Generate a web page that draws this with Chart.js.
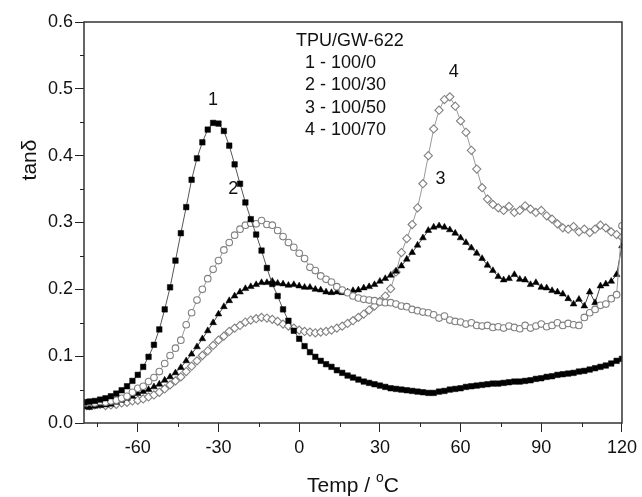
<!DOCTYPE html>
<html>
<head>
<meta charset="utf-8">
<script src="https://cdn.jsdelivr.net/npm/chart.js@4.4.1/dist/chart.umd.min.js"></script>
<style>
  html, body { margin: 0; padding: 0; background: #fff; }
  canvas { display: block; }
</style>
</head>
<body>
<canvas id="chart" width="642" height="497"></canvas>
<script>
// temperature (°C), shared by all four samples
const temps = [
  -80, -78, -76, -74, -72, -70, -68, -66, -64, -62,
  -60, -58, -56, -54, -52, -50, -48, -46, -44, -42,
  -40, -38, -36, -34, -32, -30, -28, -26, -24, -22,
  -20, -18, -16, -14, -12, -10, -8, -6, -4, -2,
  0, 2, 4, 6, 8, 10, 12, 14, 16, 18,
  20, 22, 24, 26, 28, 30, 32, 34, 36, 38,
  40, 42, 44, 46, 48, 50, 52, 54, 56, 58,
  60, 62, 64, 66, 68, 70, 72, 74, 76, 78,
  80, 82, 84, 86, 88, 90, 92, 94, 96, 98,
  100, 102, 104, 106, 108, 110, 112, 114, 116, 118,
  120
];

// 1 - 100/0
const tan100_0 = [
  0.031, 0.032, 0.033, 0.035, 0.037, 0.040, 0.044, 0.049, 0.055, 0.063,
  0.072, 0.084, 0.099, 0.117, 0.140, 0.170, 0.203, 0.243, 0.284, 0.323,
  0.364, 0.396, 0.420, 0.439, 0.449, 0.448, 0.437, 0.415, 0.387, 0.358,
  0.330, 0.305, 0.282, 0.258, 0.232, 0.208, 0.190, 0.170, 0.153, 0.138,
  0.126, 0.115, 0.106, 0.099, 0.093, 0.088, 0.084, 0.079, 0.075, 0.071,
  0.068, 0.065, 0.062, 0.060, 0.058, 0.056, 0.054, 0.052, 0.051, 0.050,
  0.049, 0.048, 0.047, 0.046, 0.045, 0.045, 0.047, 0.048, 0.050, 0.051,
  0.052, 0.054, 0.055, 0.056, 0.057, 0.058, 0.059, 0.059, 0.060, 0.061,
  0.062, 0.062, 0.063, 0.064, 0.066, 0.067, 0.069, 0.070, 0.072, 0.073,
  0.074, 0.075, 0.077, 0.078, 0.080, 0.082, 0.084, 0.086, 0.089, 0.093,
  0.096
];

// 2 - 100/30
const tan100_30 = [
  0.030, 0.031, 0.030, 0.032, 0.031, 0.033, 0.034, 0.037, 0.040, 0.046,
  0.052, 0.055, 0.062, 0.068, 0.077, 0.089, 0.101, 0.112, 0.124, 0.147,
  0.165, 0.184, 0.200, 0.216, 0.230, 0.243, 0.259, 0.270, 0.281, 0.290,
  0.296, 0.299, 0.298, 0.303, 0.297, 0.296, 0.288, 0.279, 0.270, 0.263,
  0.254, 0.246, 0.233, 0.228, 0.220, 0.215, 0.211, 0.204, 0.199, 0.195,
  0.190, 0.187, 0.185, 0.184, 0.183, 0.181, 0.180, 0.180, 0.178, 0.175,
  0.174, 0.170, 0.168, 0.166, 0.165, 0.162, 0.157, 0.160, 0.154, 0.152,
  0.151, 0.148, 0.150, 0.146, 0.145, 0.146, 0.143, 0.144, 0.142, 0.145,
  0.143, 0.141, 0.146, 0.142, 0.145, 0.148, 0.144, 0.146, 0.150, 0.146,
  0.149, 0.147, 0.146, 0.158, 0.165, 0.170, 0.176, 0.178, 0.186, 0.192,
  0.295
];

// 3 - 100/50
const tan100_50 = [
  0.024, 0.023, 0.025, 0.026, 0.027, 0.028, 0.031, 0.034, 0.037, 0.040,
  0.044, 0.047, 0.050, 0.054, 0.058, 0.064, 0.069, 0.075, 0.083, 0.093,
  0.103, 0.114, 0.126, 0.138, 0.150, 0.163, 0.174, 0.183, 0.190, 0.196,
  0.201, 0.204, 0.207, 0.210, 0.210, 0.212, 0.209, 0.208, 0.206, 0.207,
  0.205, 0.203, 0.203, 0.200, 0.199, 0.196, 0.195, 0.196, 0.195, 0.196,
  0.198, 0.199, 0.202, 0.204, 0.207, 0.212, 0.216, 0.221, 0.227, 0.235,
  0.245, 0.255, 0.266, 0.277, 0.288, 0.293, 0.295, 0.293, 0.289, 0.284,
  0.277, 0.270, 0.262, 0.254, 0.246, 0.236, 0.228, 0.219, 0.214, 0.216,
  0.222, 0.215, 0.214, 0.207, 0.210, 0.203, 0.202, 0.198, 0.196, 0.193,
  0.186, 0.178, 0.185, 0.175, 0.196, 0.180, 0.205, 0.208, 0.212, 0.222,
  0.265
];

// 4 - 100/70
const tan100_70 = [
  0.028, 0.026, 0.027, 0.028, 0.026, 0.027, 0.028, 0.030, 0.031, 0.033,
  0.034, 0.036, 0.039, 0.042, 0.046, 0.051, 0.057, 0.063, 0.069, 0.077,
  0.085, 0.093, 0.101, 0.108, 0.116, 0.124, 0.130, 0.137, 0.142, 0.146,
  0.151, 0.154, 0.156, 0.158, 0.157, 0.155, 0.152, 0.148, 0.145, 0.142,
  0.139, 0.137, 0.136, 0.135, 0.136, 0.137, 0.139, 0.142, 0.145, 0.149,
  0.153, 0.158, 0.163, 0.169, 0.175, 0.182, 0.190, 0.201, 0.226, 0.255,
  0.276, 0.297, 0.322, 0.358, 0.400, 0.440, 0.468, 0.484, 0.488, 0.474,
  0.452, 0.435, 0.408, 0.380, 0.352, 0.335, 0.327, 0.322, 0.318, 0.324,
  0.315, 0.318, 0.325, 0.320, 0.315, 0.318, 0.310, 0.305, 0.298, 0.292,
  0.290, 0.294, 0.286, 0.290, 0.285, 0.290, 0.296, 0.292, 0.286, 0.282,
  0.278
];

const xTicks = [-60, -30, 0, 30, 60, 90, 120];
const xMinorTicks = [-75, -45, -15, 15, 45, 75, 105];
const yTicks = [0, 0.1, 0.2, 0.3, 0.4, 0.5, 0.6];
const yMinorTicks = [0.05, 0.15, 0.25, 0.35, 0.45, 0.55];

const legendTitle = 'TPU/GW-622';
const legendLines = ['1 - 100/0', '2 - 100/30', '3 - 100/50', '4 - 100/70'];
const peakNames = ['1', '2', '3', '4'];

const FONT = '"Liberation Sans", Arial, sans-serif';

function toPoints(ys) {
  return temps.map((t, i) => ({ x: t, y: ys[i] }));
}

// where the curve numbers sit, in data units
const peakSpots = [[-32, 0.483], [-24.5, 0.35], [52.5, 0.365], [57.5, 0.525]];

const decorations = {
  id: 'decorations',
  afterDatasetsDraw(chart) {
    const { ctx, chartArea, scales } = chart;
    const x = scales.x, y = scales.y;
    ctx.save();

    // frame
    ctx.strokeStyle = '#333';
    ctx.lineWidth = 1.5;
    ctx.strokeRect(chartArea.left, chartArea.top, chartArea.right - chartArea.left, chartArea.bottom - chartArea.top);

    // minor ticks
    ctx.lineWidth = 1;
    ctx.strokeStyle = '#222';
    ctx.beginPath();
    xMinorTicks.forEach(v => {
      const px = Math.round(x.getPixelForValue(v)) + 0.5;
      ctx.moveTo(px, chartArea.bottom);
      ctx.lineTo(px, chartArea.bottom + 4);
    });
    yMinorTicks.forEach(v => {
      const py = Math.round(y.getPixelForValue(v)) + 0.5;
      ctx.moveTo(chartArea.left, py);
      ctx.lineTo(chartArea.left - 4, py);
    });
    ctx.stroke();

    // curve numbers
    ctx.fillStyle = '#111';
    ctx.font = '18px ' + FONT;
    ctx.textAlign = 'center';
    ctx.textBaseline = 'middle';
    peakNames.forEach((n, i) => {
      ctx.fillText(n, x.getPixelForValue(peakSpots[i][0]), y.getPixelForValue(peakSpots[i][1]));
    });

    // legend block
    ctx.textAlign = 'left';
    ctx.fillText(legendTitle, chartArea.left + 212, chartArea.top + 19);
    legendLines.forEach((s, i) => {
      ctx.fillText(s, chartArea.left + 221, chartArea.top + 41 + i * 22.5);
    });

    // axis titles
    ctx.textBaseline = 'alphabetic';
    const cx = (chartArea.left + chartArea.right) / 2;
    const a = 'Temp / ', b = 'C';
    ctx.font = '21px ' + FONT;
    const wa = ctx.measureText(a).width, wb = ctx.measureText(b).width;
    ctx.font = '14px ' + FONT;
    const wo = ctx.measureText('o').width;
    const sx = cx - (wa + wo + wb) / 2;
    ctx.font = '21px ' + FONT;
    ctx.fillText(a, sx, 492);
    ctx.font = '14px ' + FONT;
    ctx.fillText('o', sx + wa, 482);
    ctx.font = '21px ' + FONT;
    ctx.fillText(b, sx + wa + wo, 492);

    ctx.translate(30, 160);
    ctx.rotate(-Math.PI / 2);
    ctx.textAlign = 'center';
    ctx.textBaseline = 'middle';
    ctx.fillText('tan\u03b4', 0, 0);
    ctx.restore();
  }
};

const ctx = document.getElementById('chart').getContext('2d');
new Chart(ctx, {
  type: 'line',
  data: {
    datasets: [{
      label: '1 - 100/0',
      data: toPoints(tan100_0),
      borderColor: '#555',
      borderWidth: 1,
      pointStyle: 'rect',
      pointRadius: 3.9,
      pointBackgroundColor: '#000',
      pointBorderColor: '#000',
      pointBorderWidth: 0.5
    }, {
      label: '2 - 100/30',
      data: toPoints(tan100_30),
      borderColor: '#999',
      borderWidth: 1,
      pointStyle: 'circle',
      pointRadius: 3.3,
      pointBackgroundColor: '#fff',
      pointBorderColor: '#808080',
      pointBorderWidth: 1.1
    }, {
      label: '3 - 100/50',
      data: toPoints(tan100_50),
      borderColor: '#444',
      borderWidth: 1,
      pointStyle: 'triangle',
      pointRadius: 3.9,
      pointBackgroundColor: '#000',
      pointBorderColor: '#000',
      pointBorderWidth: 0.5
    }, {
      label: '4 - 100/70',
      data: toPoints(tan100_70),
      borderColor: '#999',
      borderWidth: 1,
      pointStyle: 'rectRot',
      pointRadius: 4.1,
      pointBackgroundColor: '#fff',
      pointBorderColor: '#808080',
      pointBorderWidth: 1.1
    }]
  },
  options: {
    responsive: false,
    animation: false,
    events: [],
    layout: { padding: { top: 22, right: 20, left: 0, bottom: 0 } },
    plugins: {
      legend: { display: false },
      tooltip: { enabled: false }
    },
    scales: {
      x: {
        type: 'linear',
        min: -80,
        max: 120,
        afterBuildTicks: scale => { scale.ticks = xTicks.map(v => ({ value: v })); },
        afterFit: scale => { scale.height = 74; },
        grid: { drawOnChartArea: false, drawTicks: true, tickLength: 9, color: '#222' },
        border: { display: false },
        ticks: { color: '#111', padding: 5, maxRotation: 0, font: { size: 18, family: FONT } }
      },
      y: {
        min: 0,
        max: 0.6,
        afterBuildTicks: scale => { scale.ticks = yTicks.map(v => ({ value: v })); },
        afterFit: scale => { scale.width = 84; },
        grid: { drawOnChartArea: false, drawTicks: true, tickLength: 9, color: '#222' },
        border: { display: false },
        ticks: { color: '#111', padding: 2, font: { size: 18, family: FONT }, callback: v => v.toFixed(1) }
      }
    }
  },
  plugins: [decorations]
});
</script>
</body>
</html>
